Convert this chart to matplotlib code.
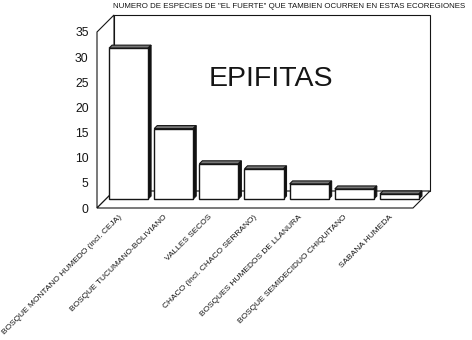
import matplotlib
matplotlib.use("Agg")
import matplotlib.pyplot as plt
from matplotlib.patches import Polygon
from matplotlib.transforms import ScaledTranslation
import numpy as np

# ---- data ----
categories = [
    "BOSQUE MONTANO HUMEDO (incl. CEJA)",
    "BOSQUE TUCUMANO-BOLIVIANO",
    "VALLES SECOS",
    "CHACO (incl. CHACO SERRANO)",
    "BOSQUES HUMEDOS DE LLANURA",
    "BOSQUE SEMIDECIDUO CHIQUITANO",
    "SABANA HUMEDA",
]
values = [30, 14, 7, 6, 3, 2, 1]
y_ticks = [0, 5, 10, 15, 20, 25, 30, 35]
title = 'NUMERO DE ESPECIES DE "EL FUERTE" QUE TAMBIEN OCURREN EN ESTAS ECOREGIONES'
panel_label = "EPIFITAS"

# ---- figure ----
W, H, DPI = 472, 340, 100
plt.rcParams["font.family"] = ["Liberation Sans", "DejaVu Sans"]
fig = plt.figure(figsize=(W / DPI, H / DPI), dpi=DPI)
fig.patch.set_facecolor("white")

ax = fig.add_axes([97 / W, 1 - 208 / H, 316 / W, 176 / H])
n = len(categories)
ymax = y_ticks[-1]
ax.set_xlim(0, n)
ax.set_ylim(0, ymax)
for s in ax.spines.values():
    s.set_visible(False)
ax.patch.set_visible(False)

# pixel -> data scale for the oblique depth
pos = ax.get_position()
px_x = pos.width * W / n
px_y = pos.height * H / ymax


def sh(x, y, d):
    return (x + d / px_x, y + d / px_y)


BACK = 17      # depth of back wall (px)
BAR_D0 = 9     # depth of bar front face (px)
BAR_DD = 3     # bar thickness (px)
ink = "#151515"
lw_frame = 0.8

# back wall, left wall, floor
ax.add_patch(Polygon([sh(0, 0, BACK), sh(n, 0, BACK), sh(n, ymax, BACK), sh(0, ymax, BACK)],
                     closed=True, fc="white", ec=ink, lw=lw_frame, zorder=1, clip_on=False))
ax.add_patch(Polygon([sh(0, 0, 0), sh(0, ymax, 0), sh(0, ymax, BACK), sh(0, 0, BACK)],
                     closed=True, fc="white", ec=ink, lw=lw_frame, zorder=1.1, clip_on=False))
ax.add_patch(Polygon([sh(0, 0, 0), sh(n, 0, 0), sh(n, 0, BACK), sh(0, 0, BACK)],
                     closed=True, fc="white", ec=ink, lw=lw_frame, zorder=1.1, clip_on=False))

# bars
w = 0.864
xc = np.arange(n) + 0.5
fx, fy = sh(0, 0, BAR_D0)
ax.bar(xc + fx, values, width=w, bottom=fy, color="white", edgecolor=ink, linewidth=1.0,
       zorder=3, clip_on=False)
for x, v in zip(xc, values):
    x0, x1 = x - w / 2, x + w / 2
    top = [sh(x0, v, BAR_D0), sh(x1, v, BAR_D0), sh(x1, v, BAR_D0 + BAR_DD), sh(x0, v, BAR_D0 + BAR_DD)]
    side = [sh(x1, 0, BAR_D0), sh(x1, v, BAR_D0), sh(x1, v, BAR_D0 + BAR_DD), sh(x1, 0, BAR_D0 + BAR_DD)]
    ax.add_patch(Polygon(top, closed=True, fc="#777777", ec=ink, lw=0.8, zorder=2.9, clip_on=False))
    ax.add_patch(Polygon(side, closed=True, fc="#111111", ec=ink, lw=0.8, zorder=2.9, clip_on=False))

# y ticks
ax.set_yticks(y_ticks)
ax.set_yticklabels([str(t) for t in y_ticks], fontsize=8.8, color=ink)
ax.tick_params(axis="y", length=0, pad=6)

# x tick labels
ax.set_xticks(xc)
ax.set_xticklabels(categories, rotation=45, ha="right", va="top", rotation_mode="anchor",
                   fontsize=6.0, color=ink)
ax.tick_params(axis="x", length=0, pad=4)
off = ScaledTranslation(-1.5 / DPI, 0, fig.dpi_scale_trans)
for lab in ax.get_xticklabels():
    lab.set_transform(lab.get_transform() + off)

# texts
fig.text(289 / W, 1 - 6.5 / H, title, ha="center", va="center", fontsize=5.65, color=ink)
fig.text(270.5 / W, 1 - 78.5 / H, panel_label, ha="center", va="center", fontsize=20.5, color=ink)

fig.savefig("out.png", dpi=DPI, facecolor="white")
